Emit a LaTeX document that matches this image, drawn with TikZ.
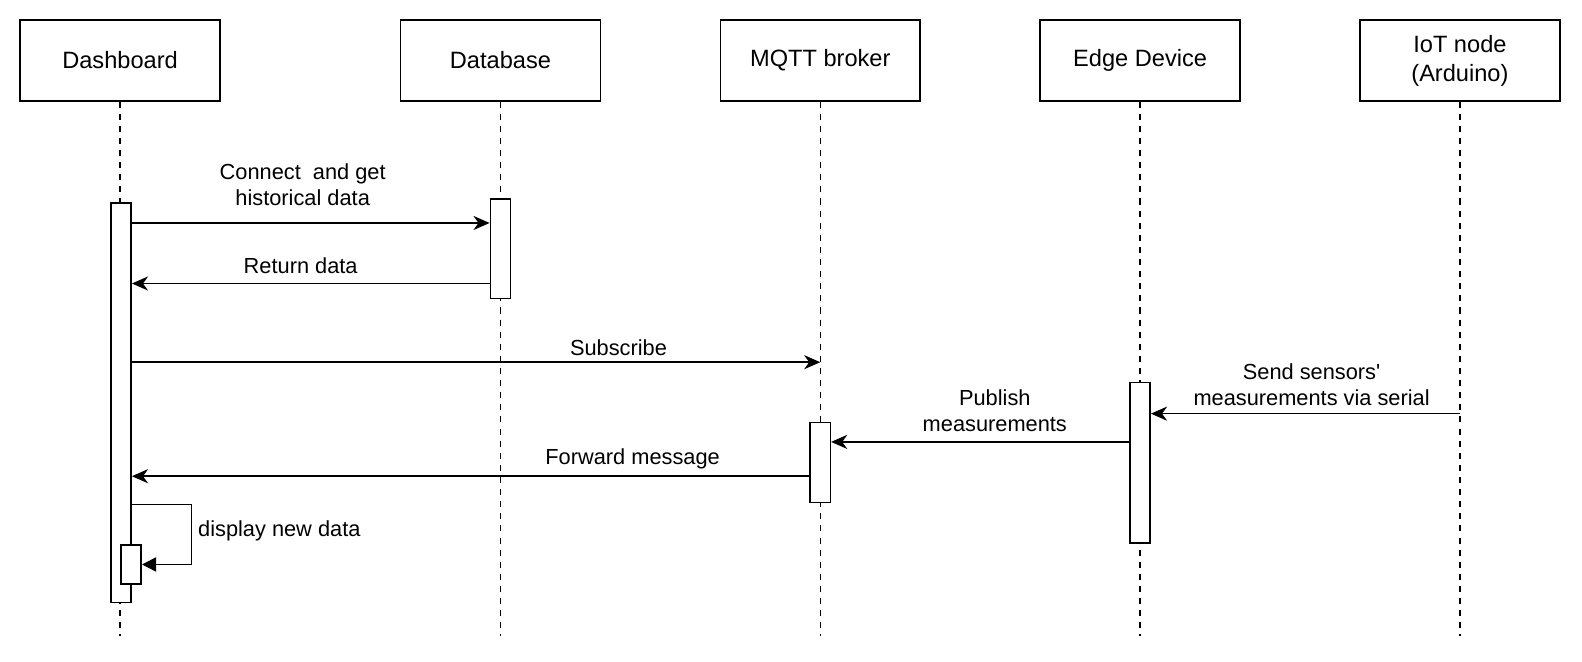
\documentclass[tikz,border=0pt]{standalone}
\usepackage{fontspec}
\setmainfont{Liberation Sans}
\usepackage{tikz}
\usetikzlibrary{arrows.meta, positioning, calc}
\usepackage{xcolor}
\definecolor{seqblack}{RGB}{0, 0, 0}
\tikzstyle{actor} = [draw=seqblack, line width=0.75pt, fill=white, minimum width=99pt, minimum height=40pt, align=center, inner sep=0pt, font=\fontsize{11.7}{14.3}\selectfont]
\tikzstyle{lifeline} = [seqblack, line width=0.75pt, dash pattern=on 3pt off 3pt]
\tikzstyle{activation} = [draw=seqblack, line width=0.75pt, fill=white, minimum width=10pt, inner sep=0pt]
\tikzstyle{arrow} = [line width=0.75pt, -{Stealth[length=8pt, width=7pt, inset=2.5pt]}, seqblack]
\tikzstyle{selfarrow} = [line width=0.75pt, -{Triangle[length=7pt, width=7pt]}, seqblack]
\tikzstyle{msg} = [align=center, inner sep=0pt, font=\fontsize{10.8}{12.9}\selectfont]

\begin{document}
\begin{tikzpicture}[x=0.5pt, y=-0.5pt]
\useasboundingbox (0,0) rectangle (1568,656);
% Participants
\node[actor] (dash) at (119,60) {Dashboard};
\node[actor] (db) at (496,60) {Database};
\node[actor] (mqtt) at (813,60) {MQTT broker};
\node[actor] (edge) at (1130,60) {Edge Device};
\node[actor] (iot) at (1447,60) {IoT node\\(Arduino)};

% Lifelines
\coordinate (bottom) at (0,630);
\foreach \p in {dash, db, mqtt, edge, iot}
    \draw[lifeline] (\p.south) -- (\p.south |- bottom);

% Activations
\node[activation, minimum height=198pt] (dashact) at (120,399) {};
\node[activation, minimum height=49.5pt] (dbact) at (496,246.5) {};
\node[activation, minimum height=39.5pt] (mqttact) at (813,458.5) {};
\node[activation, minimum height=79.5pt] (edgeact) at (1130,458.5) {};
\node[activation, minimum height=19.5pt] (selfact) at (130,559.5) {};

% Message rows
\coordinate (r1) at (0,221);
\coordinate (r2) at (0,281);
\coordinate (r3) at (0,359);
\coordinate (r4) at (0,410);
\coordinate (r5) at (0,438);
\coordinate (r6) at (0,472);
\coordinate (r7) at (0,500);

\draw[arrow] (dashact.east |- r1) -- (dbact.west |- r1);
\draw[arrow] (dbact.west |- r2) -- (dashact.east |- r2);
\draw[arrow] (dashact.east |- r3) -- (mqtt.south |- r3);
\draw[arrow] (iot.south |- r4) -- (edgeact.east |- r4);
\draw[arrow] (edgeact.west |- r5) -- (mqttact.east |- r5);
\draw[arrow] (mqttact.west |- r6) -- (dashact.east |- r6);
\draw[selfarrow] (dashact.east |- r7) -- ++(59,0) |- (selfact.east);

% Labels
\node[msg] (lconnect) at (300,183) {Connect\ \ and get\\historical data};
\node[msg] (lreturn) at (298,263) {Return data};
\node[msg] (lsub) at (613,345) {Subscribe};
\node[msg] (lsend) at (1300,381) {Send sensors\textquotesingle\\measurements via serial};
\node[msg] (lpub) at (986,407) {Publish\\measurements};
\node[msg] (lfwd) at (627,455) {Forward message};
\node[msg, anchor=west] (ldisplay) at (196,526) {display new data};
\end{tikzpicture}
\end{document}
